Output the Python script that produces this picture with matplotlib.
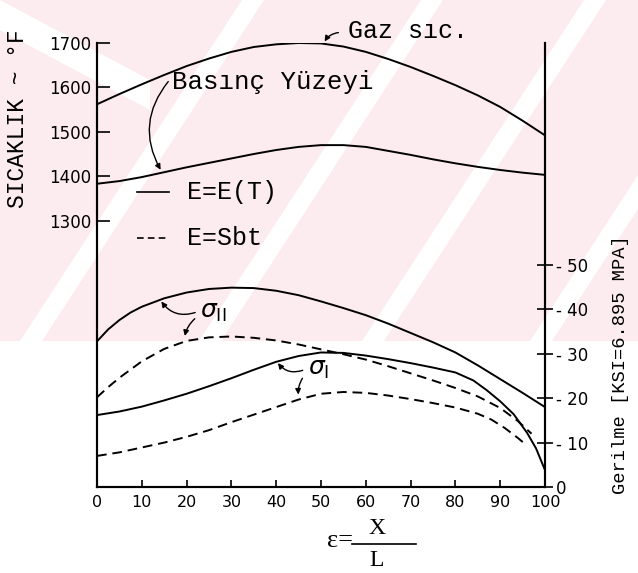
import numpy as np
import matplotlib.pyplot as plt
from matplotlib.patches import Polygon
from matplotlib.lines import Line2D

# Okunan degerler (grafikten tahmini)
x_gaz = [0, 5, 10, 15, 20, 25, 30, 35, 40, 45, 50, 55, 60, 65, 70, 75, 80, 85, 90, 95, 100]
t_gaz = [1562, 1585, 1607, 1628, 1648, 1665, 1680, 1691, 1697, 1700, 1699, 1692, 1680,
         1664, 1646, 1626, 1605, 1582, 1556, 1525, 1492]

x_bas = [0, 5, 10, 15, 20, 25, 30, 35, 40, 45, 50, 55, 60, 65, 70, 75, 80, 85, 90, 95, 100]
t_bas = [1383, 1389, 1398, 1409, 1420, 1430, 1440, 1450, 1459, 1466, 1470, 1470, 1466,
         1457, 1448, 1438, 1429, 1421, 1414, 1408, 1403]

# Gerilme (KSI)
x_s2_et = [0, 2.5, 5, 7.5, 10, 15, 20, 25, 30, 35, 40, 45, 50, 55, 60, 65, 70, 75, 80,
           85, 90, 95, 100]
s2_et = [32.8, 35.5, 37.6, 39.3, 40.6, 42.5, 43.8, 44.6, 44.9, 44.8, 44.2, 43.2, 41.8,
         40.3, 38.7, 36.8, 34.7, 32.6, 30.3, 27.4, 24.3, 21.2, 18.0]

x_s2_sbt = [0, 2.5, 5, 10, 15, 20, 25, 30, 35, 40, 45, 50, 55, 60, 65, 70, 75, 80, 85,
            90, 94, 97]
s2_sbt = [20.2, 22.5, 24.6, 28.3, 31.1, 32.9, 33.7, 33.9, 33.6, 33.0, 32.1, 31.0, 29.9,
          28.7, 27.2, 25.6, 24.0, 22.3, 20.4, 17.8, 14.8, 12.0]

x_s1_et = [0, 5, 10, 15, 20, 25, 30, 35, 40, 45, 50, 55, 60, 65, 70, 75, 80, 84, 87, 90,
           93, 96, 98, 100]
s1_et = [16.2, 17.0, 18.1, 19.5, 21.0, 22.7, 24.5, 26.4, 28.2, 29.5, 30.3, 30.2, 29.6,
         28.8, 27.9, 26.9, 25.8, 24.0, 21.8, 19.3, 16.4, 12.2, 8.7, 3.8]

x_s1_sbt = [0, 5, 10, 15, 20, 25, 30, 35, 40, 45, 50, 55, 60, 65, 70, 75, 80, 85, 88,
            91, 94, 96]
s1_sbt = [7.0, 7.8, 8.9, 10.0, 11.3, 12.8, 14.6, 16.3, 18.0, 19.7, 21.0, 21.4, 21.2,
          20.6, 19.8, 18.9, 17.9, 16.5, 15.2, 13.3, 11.0, 9.3]

x_ticks = [0, 10, 20, 30, 40, 50, 60, 70, 80, 90, 100]
t_ticks = [1300, 1400, 1500, 1600, 1700]
ksi_ticks = [0, 10, 20, 30, 40, 50]
ksi_labels = ['0', '- 10', '- 20', '- 30', '- 40', '- 50']

mono = 'Liberation Mono'
serif = 'Liberation Serif'
W, H = 638, 573

fig = plt.figure(figsize=(W / 100, H / 100), dpi=100)


def px_poly(pts, color, z):
    # piksel koordinatlarindan sekil (filigran icin)
    fig.patches.append(Polygon([(px / W, 1 - py / H) for px, py in pts], closed=True,
                               transform=fig.transFigure, facecolor=color,
                               edgecolor='none', zorder=z))


# arka plandaki pembe filigran
pink = '#fcebef'
px_poly([(0, 0), (W, 0), (W, 341), (0, 341)], pink, -10)
for x0 in [20, 199, 362, 530]:
    px_poly([(x0, 341), (x0 + 22, 341), (x0 + 22 + 222, 0), (x0 + 222, 0)], 'white', -9)
px_poly([(0, 0), (0, 30), (150, 110), (150, 80)], 'white', -9)

ax = fig.add_axes([97 / W, 1 - 487 / H, 448 / W, 444 / H])
ax.patch.set_alpha(0)
ax2 = ax.twinx()
ax2.patch.set_alpha(0)

# sicaklik egrileri
ax.plot(x_gaz, t_gaz, color='black', lw=1.4)
ax.plot(x_bas, t_bas, color='black', lw=1.4)

# gerilme egrileri
ax2.plot(x_s2_et, s2_et, color='black', lw=1.4)
ax2.plot(x_s1_et, s1_et, color='black', lw=1.4)
ax2.plot(x_s2_sbt, s2_sbt, color='black', lw=1.4, ls=(0, (5, 3)))
ax2.plot(x_s1_sbt, s1_sbt, color='black', lw=1.4, ls=(0, (5, 3)))

ax.set_xlim(0, 100)
ax.set_ylim(700, 1700)
ax2.set_ylim(0, 100)

for a in (ax, ax2):
    a.spines['top'].set_visible(False)
    for s in a.spines.values():
        s.set_linewidth(1.5)

ax.set_xticks(x_ticks)
ax.set_xticklabels([str(v) for v in x_ticks])
ax.tick_params(axis='x', direction='in', length=5, width=1.2, labelsize=11.5, pad=6)
ax.set_yticks(t_ticks)
ax.tick_params(axis='y', direction='in', length=9, width=1.2, labelsize=12, pad=4)
ax2.set_yticks(ksi_ticks)
ax2.set_yticklabels(ksi_labels)
ax2.tick_params(axis='y', direction='inout', length=12, width=1.2, labelsize=12, pad=2)

ax.set_ylabel('SICAKLIK ~ °F', fontfamily=mono, fontsize=16.5)
ax.yaxis.set_label_coords(-0.152, 0.83)
ax2.set_ylabel('Gerilme [KSI=6.895 MPA]', fontfamily=mono, fontsize=13.5, rotation=90)
ax2.yaxis.set_label_coords(1.15, 0.275)

# x ekseni etiketi: e = X / L (kesir cizgisi ile)
fig.text(340 / W, 1 - 541 / H, 'ε=', fontfamily=serif, fontsize=19,
         ha='center', va='center')
fig.text(377 / W, 1 - 529 / H, 'X', fontfamily=serif, fontsize=17,
         ha='center', va='center')
fig.text(377 / W, 1 - 561 / H, 'L', fontfamily=serif, fontsize=17,
         ha='center', va='center')
fig.lines.append(Line2D([352 / W, 416 / W], [1 - 544 / H, 1 - 544 / H],
                        transform=fig.transFigure, color='black', lw=1.2))

# etiketler ve oklar
arr = dict(arrowstyle='-|>', color='black', lw=1.0, mutation_scale=8)
ax.text(56, 1728, 'Gaz sıc.', fontfamily=mono, fontsize=18, va='center')
ax.annotate('', xy=(50.5, 1698), xytext=(54.5, 1724),
            arrowprops=dict(arr, connectionstyle='arc3,rad=0.3'))
ax.text(16.8, 1612, 'Basınç Yüzeyi', fontfamily=mono, fontsize=18.5, va='center')
ax.annotate('', xy=(14.5, 1409), xytext=(16.3, 1618),
            arrowprops=dict(arr, connectionstyle='arc3,rad=0.35'))

ax.plot([9, 16], [1365, 1365], color='black', lw=1.2)
ax.text(20, 1365, 'E=E(T)', fontfamily=mono, fontsize=18, va='center')
ax.plot([9, 16], [1260, 1260], color='black', lw=1.2, ls=(0, (4, 2.5)))
ax.text(20, 1260, 'E=Sbt', fontfamily=mono, fontsize=18, va='center')

ax2.text(23, 39.5, r'$\sigma_{\mathrm{II}}$', fontsize=18, va='center')
ax2.annotate('', xy=(14, 42.3), xytext=(22.5, 39.5),
             arrowprops=dict(arr, connectionstyle='arc3,rad=-0.4'))
ax2.annotate('', xy=(19.5, 33.4), xytext=(22.3, 38.3),
             arrowprops=dict(arr, connectionstyle='arc3,rad=0.2'))
ax2.text(47, 26.5, r'$\sigma_{\mathrm{I}}$', fontsize=18, va='center')
ax2.annotate('', xy=(40, 28.4), xytext=(46.5, 26.5),
             arrowprops=dict(arr, connectionstyle='arc3,rad=-0.4'))
ax2.annotate('', xy=(45, 20.2), xytext=(46.2, 25),
             arrowprops=dict(arr, connectionstyle='arc3,rad=0.2'))

fig.savefig('out.png', dpi=100)
